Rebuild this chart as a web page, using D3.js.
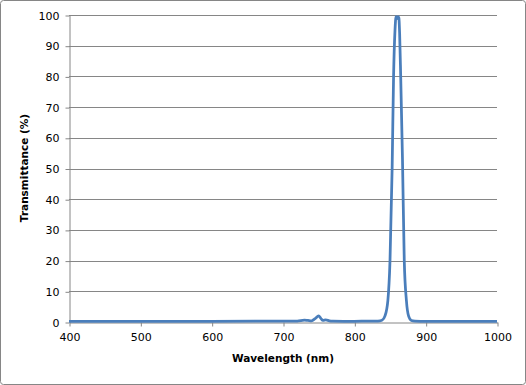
<!DOCTYPE html>
<html>
<head>
<meta charset="utf-8">
<script src="https://cdn.jsdelivr.net/npm/d3@7"></script>
<style>
  body { margin: 0; background: #fff; }
  text { font-family: "DejaVu Sans", sans-serif; }
</style>
</head>
<body>
<div id="chart"></div>
<script>
// wavelength (nm) and transmittance (%)
const wavelength = [400, 500, 600, 700, 720, 730, 735, 740, 745, 750, 753, 756, 760, 765, 770, 800, 820, 830, 836,
  839, 843, 847, 850, 853, 855, 857, 858.5, 860, 861.5, 862.5, 863.5, 865, 867.5, 870, 873, 876, 880, 885, 900, 1000];
const transmittance = [0.2, 0.2, 0.2, 0.3, 0.3, 0.6, 0.5, 0.4, 1.1, 2.0, 1.2, 0.5, 0.7, 0.4, 0.3, 0.2, 0.3, 0.3, 0.4,
  0.6, 2, 7, 20, 50, 80, 95, 99.5, 98.8, 99.5, 99, 94, 80, 53, 20, 7, 2, 0.5, 0.3, 0.2, 0.2];
const xTicks = [400, 500, 600, 700, 800, 900, 1000];
const yTicks = [0, 10, 20, 30, 40, 50, 60, 70, 80, 90, 100];

const data = wavelength.map((w, i) => ({ w: w, t: transmittance[i] }));

const width = 526, height = 385;
const svg = d3.select("#chart").append("svg")
  .attr("width", width)
  .attr("height", height);

// chart frame
svg.append("rect")
  .attr("x", 0.5).attr("y", 0.5)
  .attr("width", width - 1).attr("height", height - 1)
  .attr("rx", 3)
  .attr("fill", "#fff")
  .attr("stroke", "#868686");

const x = d3.scaleLinear().domain([400, 1000]).range([69, 497]);
const y = d3.scaleLinear().domain([0, 100]).range([322, 15]);

// horizontal grid
svg.append("g")
  .selectAll("line")
  .data(yTicks.filter(d => d > 0))
  .join("line")
  .attr("x1", 69).attr("x2", 497)
  .attr("y1", d => Math.round(y(d)) + 0.5)
  .attr("y2", d => Math.round(y(d)) + 0.5)
  .attr("stroke", "#868686");

// y axis
const yAxis = svg.append("g")
  .attr("transform", "translate(69.5,0.5)")
  .call(d3.axisLeft(y).tickValues(yTicks).tickFormat(d3.format("d")).tickSize(4).tickPadding(6).tickSizeOuter(0));
yAxis.select(".domain").attr("stroke", "#868686");
yAxis.selectAll(".tick line").attr("stroke", "#868686");
yAxis.selectAll("text").style("font-size", "11px").attr("fill", "#000");

// x axis
const xAxis = svg.append("g")
  .attr("transform", "translate(0.5,322.5)")
  .call(d3.axisBottom(x).tickValues(xTicks).tickFormat(d3.format("d")).tickSize(4).tickPadding(7).tickSizeOuter(0));
xAxis.select(".domain").attr("stroke", "#868686");
xAxis.selectAll(".tick line").attr("stroke", "#868686");
xAxis.selectAll("text").style("font-size", "11px").attr("fill", "#000");

// series
const line = d3.line()
  .x(d => x(d.w))
  .y(d => y(d.t))
  .curve(d3.curveMonotoneX);

svg.append("path")
  .datum(data)
  .attr("fill", "none")
  .attr("stroke", "#4a7ebb")
  .attr("stroke-width", 2.75)
  .attr("stroke-linejoin", "round")
  .attr("d", line);

// axis titles
svg.append("text")
  .attr("x", 283)
  .attr("y", 362)
  .attr("text-anchor", "middle")
  .style("font-size", "10.5px")
  .style("font-weight", "bold")
  .text("Wavelength (nm)");

svg.append("text")
  .attr("transform", "translate(28,168) rotate(-90)")
  .attr("text-anchor", "middle")
  .style("font-size", "10.5px")
  .style("font-weight", "bold")
  .text("Transmittance (%)");
</script>
</body>
</html>
